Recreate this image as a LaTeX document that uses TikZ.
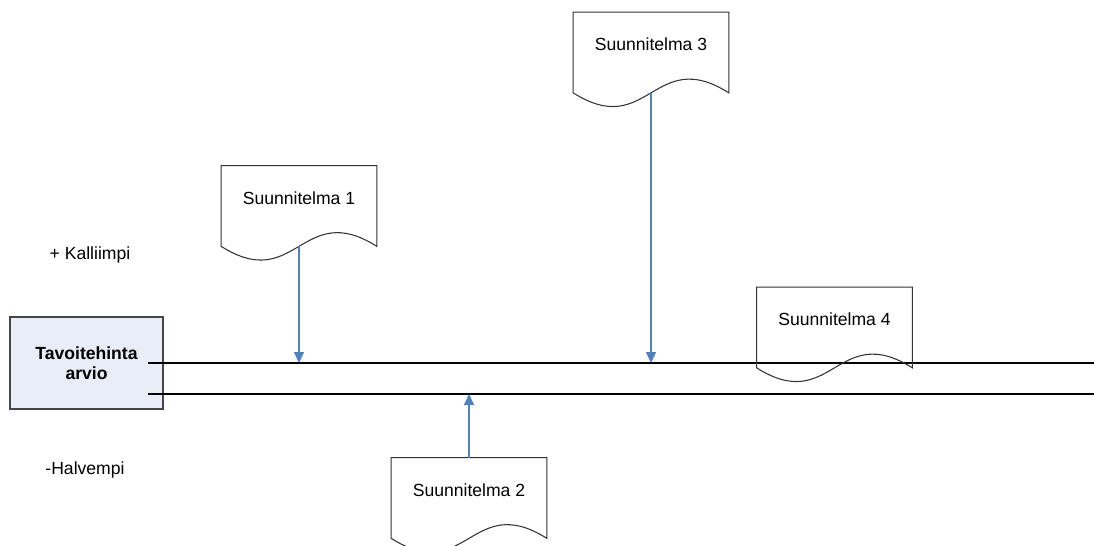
\documentclass[tikz,border=0pt]{standalone}
\usepackage{fontspec}
\setmainfont{Liberation Sans}
\usetikzlibrary{calc,arrows.meta}
\definecolor{planblue}{RGB}{79,129,189}
\definecolor{boxfill}{RGB}{232,237,247}
\definecolor{boxline}{RGB}{70,70,70}
\begin{document}
\begin{tikzpicture}[x=0.02cm,y=-0.02cm,
        docnode/.style={minimum width=3.1cm,minimum height=1.6cm,inner sep=0pt,
                        text height=0.25cm,text depth=0.32cm,font=\fontsize{10}{12}\selectfont},
        planarrow/.style={planblue,line width=0.6pt,-{Triangle[length=2.2mm,width=2mm]}}]
            \useasboundingbox (0,0) rectangle (1094,545);
            \fill[white] (0,0) rectangle (1094,545);
                % target price box
                \node[draw=boxline,fill=boxfill,line width=0.7pt,minimum width=3.06cm,minimum height=1.84cm,
                      align=center,font=\bfseries\fontsize{10}{11.4}\selectfont] (goal) at (86.5,363) {Tavoitehinta\\arvio};
                \coordinate (upL) at (148,363);
                \coordinate (upR) at (1094,363);
                \coordinate (loL) at (148,394);
                \coordinate (loR) at (1094,394);
                \draw[line width=0.7pt] (upL)--(upR);
                \draw[line width=0.7pt] (loL)--(loR);
                \node[font=\fontsize{10}{12}\selectfont] (pricier) at (90,255) {+ Kalliimpi};
                \node[font=\fontsize{10}{12}\selectfont] (cheaper) at (85,470) {-Halvempi};
                % plans
                \node[docnode] (s1) at (299,206) {Suunnitelma 1};
                \node[docnode] (s2) at (469,498) {Suunnitelma 2};
                \node[docnode] (s3) at (651,52.5) {Suunnitelma 3};
                \node[docnode] (s4) at (834.5,327.5) {Suunnitelma 4};
                \foreach \d in {s1,s2,s3,s4}
                    \draw[black!80,line width=0.6pt] (\d.south west)--(\d.north west)--(\d.north east)--(\d.south east)
                        .. controls +(-1.5cm,0.95cm) and +(1.5cm,-0.95cm) .. (\d.south west);
                \draw[planarrow] (s1.south)--(s1.south |- upL);
                \draw[planarrow] (s3.south)--(s3.south |- upL);
                \draw[planarrow] (s2.north)--(s2.north |- loL);
            \end{tikzpicture}
\end{document}
